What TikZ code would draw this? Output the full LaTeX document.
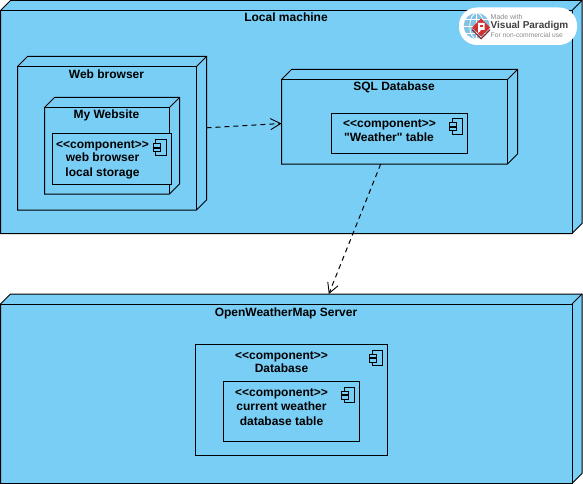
\documentclass[tikz,border=0pt]{standalone}
\usepackage{fontspec}
\setmainfont[Ligatures=TeXOff]{Liberation Sans}
\usetikzlibrary{arrows.meta,calc,shapes.geometric}
\definecolor{vpblue}{HTML}{79CEF5}
\definecolor{vpred}{HTML}{D32F2F}
\definecolor{vpgrey}{HTML}{8A8A8A}
\definecolor{vpglobe}{HTML}{4FA8D8}
\tikzset{
  x=1pt,y=-1pt,
  every node/.style={font=\bfseries\fontsize{12}{14}\selectfont,text=black},
  cube/.style={anchor=north west,inner sep=0pt,outer sep=0pt,draw=none},
  comp/.style={anchor=north west,inner sep=0pt,outer sep=0pt,draw=black,line width=1pt,fill=vpblue},
  lbl/.style={anchor=center,inner sep=0pt,text height=10pt,text depth=2pt},
  dep/.style={draw=black,line width=1pt,dash pattern=on 5pt off 4pt,-{Straight Barb[length=10pt,width=11pt,line width=.9pt]}},
  logotxt/.style={anchor=west,inner sep=0pt,text=vpgrey,font=\fontsize{7}{8}\selectfont},
}
% three-dimensional UML node from the bounding node #1
\newcommand{\cubedraw}[1]{%
  \draw[line width=1pt,fill=vpblue,line join=miter]
    ([shift={(0,10)}]#1.north west) -- ([shift={(10,0)}]#1.north west) -- (#1.north east)
    -- ([shift={(0,-10)}]#1.south east) -- ([shift={(-10,0)}]#1.south east) -- (#1.south west) -- cycle;
  \draw[line width=1pt] (#1.south west) -- ([shift={(0,10)}]#1.north west)
    -- ([shift={(-10,10)}]#1.north east) -- ([shift={(-10,0)}]#1.south east);
  \draw[line width=1pt] ([shift={(-10,10)}]#1.north east) -- (#1.north east);
}
% component icon, top-left corner at (#1,#2)
\newcommand{\compicon}[2]{%
  \begin{scope}[shift={(#1,#2)}]
    \draw[line width=1pt,fill=vpblue] (2.7,0) rectangle (13.4,15.6);
    \draw[line width=1pt,fill=vpblue] (0,4) rectangle (7.3,7.7);
    \draw[line width=1pt,fill=vpblue] (0,8.7) rectangle (7.3,12.3);
  \end{scope}
}
\begin{document}
\begin{tikzpicture}
\useasboundingbox (0,0) rectangle (583,484);
\fill[white] (0,0) rectangle (583,484);

% Local machine
\node[cube,minimum width=581.5pt,minimum height=233pt] (local) at (0.5,0.5) {};
\cubedraw{local}
\node[lbl] (locallbl) at (286,18) {Local machine};

% Web browser
\node[cube,minimum width=189pt,minimum height=153.5pt] (web) at (17.5,56.5) {};
\cubedraw{web}
\draw[line width=1pt] (27.5,57) -- (206.5,57) (17.5,66.5) -- (196.5,66.5);
\node[lbl] (weblbl) at (106.5,74.5) {Web browser};

% My Website
\node[cube,minimum width=135pt,minimum height=96.5pt] (site) at (44.5,97.5) {};
\cubedraw{site}
\node[lbl] (sitelbl) at (106.5,114.5) {My Website};

% web browser local storage
\node[comp,minimum width=118.5pt,minimum height=50.5pt] (store) at (52.5,133.5) {};
\compicon{153}{139.5}
\node[lbl] (storea) at (102.5,144) {<<component>>};
\node[lbl] (storeb) at (102.5,157.5) {web browser};
\node[lbl] (storec) at (102.5,172.5) {local storage};

% SQL Database
\node[cube,minimum width=236pt,minimum height=94.5pt] (sql) at (281.5,69.5) {};
\cubedraw{sql}
\node[lbl] (sqllbl) at (394,86.5) {SQL Database};
\node[comp,minimum width=136pt,minimum height=40pt] (weather) at (331.5,113.5) {};
\compicon{449.5}{118.5}
\node[lbl] (weathera) at (389.5,123.5) {<<component>>};
\node[lbl] (weatherb) at (389,137.5) {"Weather" table};

% OpenWeatherMap Server
\node[cube,minimum width=581.5pt,minimum height=189.5pt] (server) at (0.5,294) {};
\cubedraw{server}
\node[lbl] (serverlbl) at (286,312) {OpenWeatherMap Server};
\node[comp,minimum width=192pt,minimum height=111pt] (db) at (195.5,344.5) {};
\compicon{369.5}{350}
\node[lbl] (dba) at (281.5,355) {<<component>>};
\node[lbl] (dbb) at (281.5,368.5) {Database};
\node[comp,minimum width=136pt,minimum height=60pt] (cur) at (223.5,381.5) {};
\compicon{341.5}{387}
\node[lbl] (cura) at (281.5,392) {<<component>>};
\node[lbl] (curb) at (281.5,406) {current weather};
\node[lbl] (curc) at (281.5,421) {database table};

% Dependencies
\draw[dep] (web) -- (sql);
\draw[dep] (sql) -- (server);

% Visual Paradigm badge
\fill[white] (459,7.5) [rounded corners=18pt] rectangle (577,45);
\begin{scope}
  \clip (476.7,26) circle (13);
  \fill[vpglobe!70!white] (463,12) rectangle (491,40);
  \draw[white,line width=.8pt] (463,26) -- (491,26) (463,19) -- (491,19) (463,33) -- (491,33);
  \draw[white,line width=.8pt] (476.7,13) -- (476.7,39);
  \draw[white,line width=.8pt] (476.7,26) ellipse (7 and 13);
\end{scope}
\fill[vpred] (481,18.5) -- (490,27.5) -- (481,36.5) -- (472,27.5) -- cycle;
\fill[vpred!70!black] (472,29) -- (481,38) -- (490,29) -- (490,30.5) -- (481,39.5) -- (472,30.5) -- cycle;
\fill[white] (478,23) rectangle (484.5,30) (478,30) -- (478,33) -- (480.5,31) -- (480.5,30) -- cycle;
\fill[vpred] (480.2,25) rectangle (482.5,27.5);
\node[logotxt] (vpa) at (490.5,17) {Made with};
\node[logotxt,text=black!75,font=\bfseries\fontsize{10}{12}\selectfont] (vpb) at (490.5,26) {Visual Paradigm};
\node[logotxt,font=\fontsize{6.7}{8}\selectfont] (vpc) at (490.5,35) {For non-commercial use};
\end{tikzpicture}
\end{document}
